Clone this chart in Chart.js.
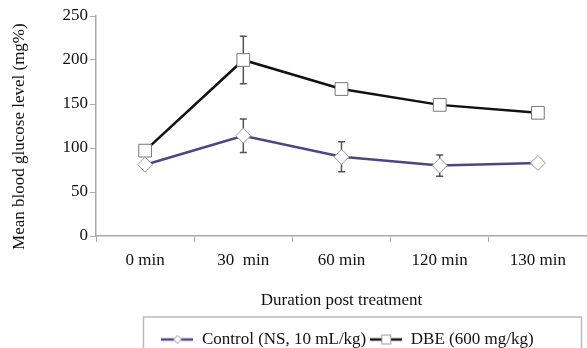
<!DOCTYPE html>
<html>
<head>
<meta charset="utf-8">
<script src="https://cdn.jsdelivr.net/npm/chart.js@4"></script>
<style>
  html, body { margin: 0; padding: 0; background: #fff; }
</style>
</head>
<body>
<canvas id="chart" width="587" height="348"></canvas>
<script>
const categories = ['0 min', '30  min', '60 min', '120 min', '130 min'];
const controlMean = [81, 114, 90, 80, 83];
const controlErr = [3, 19, 17, 12, 2];
const dbeMean = [97, 200, 167, 149, 140];
const dbeErr = [4, 27, 5, 3, 4];
const yTicks = [0, 50, 100, 150, 200, 250];

const FONT = '"Liberation Serif", "DejaVu Serif", serif';
const errs = [controlErr, dbeErr];

// little line+marker pictures for the legend
function legendIcon(color, shape) {
  const c = document.createElement('canvas');
  c.width = 32; c.height = 12;
  const g = c.getContext('2d');
  g.strokeStyle = color; g.lineWidth = 2.5;
  g.beginPath(); g.moveTo(0, 6); g.lineTo(32, 6); g.stroke();
  g.fillStyle = '#fff'; g.strokeStyle = '#999'; g.lineWidth = 1;
  g.beginPath();
  if (shape === 'diamond') {
    g.moveTo(16, 2); g.lineTo(20, 6); g.lineTo(16, 10); g.lineTo(12, 6); g.closePath();
  } else {
    g.rect(11.5, 1.5, 9, 9);
  }
  g.fill(); g.stroke();
  return c;
}
const icons = [legendIcon('#4f4585', 'diamond'), legendIcon('#111', 'square')];

// x axis runs right up to the edge of the picture
const stretchRight = {
  id: 'stretchRight',
  afterLayout(chart) {
    const x = chart.scales.x;
    x.right = chart.width;
    x.width = x.right - x.left;
    x.configure();
    chart.chartArea.right = chart.width;
    chart.chartArea.width = chart.chartArea.right - chart.chartArea.left;
    const lg = chart.legend;
    lg.left = chart.chartArea.left + 6;
    lg.right = chart.chartArea.right + 6;
  }
};

const errorBars = {
  id: 'errorBars',
  beforeDatasetsDraw(chart) {
    const { ctx, scales: { x, y } } = chart;
    ctx.save();
    ctx.strokeStyle = '#555';
    ctx.lineWidth = 1.5;
    chart.data.datasets.forEach((ds, di) => {
      ds.data.forEach((v, i) => {
        const e = errs[di][i];
        const px = x.getPixelForValue(i);
        const top = y.getPixelForValue(v + e);
        const bot = y.getPixelForValue(v - e);
        ctx.beginPath();
        ctx.moveTo(px, top); ctx.lineTo(px, bot);
        ctx.moveTo(px - 3.5, top); ctx.lineTo(px + 3.5, top);
        ctx.moveTo(px - 3.5, bot); ctx.lineTo(px + 3.5, bot);
        ctx.stroke();
      });
    });
    ctx.restore();
  }
};

const legendFrame = {
  id: 'legendFrame',
  afterDraw(chart) {
    const boxes = chart.legend.legendHitBoxes;
    if (!boxes || !boxes.length) return;
    const l = Math.min(...boxes.map(b => b.left));
    const r = Math.max(...boxes.map(b => b.left + b.width));
    const t = Math.min(...boxes.map(b => b.top));
    const ctx = chart.ctx;
    ctx.save();
    ctx.strokeStyle = '#bbb';
    ctx.lineWidth = 1.5;
    ctx.strokeRect(l - 18, t - 14, r - l + 66, 60);
    ctx.restore();
  }
};

new Chart(document.getElementById('chart'), {
  type: 'line',
  data: {
    labels: categories,
    datasets: [
      {
        label: 'Control (NS, 10 mL/kg)',
        data: controlMean,
        borderColor: '#4f4585',
        borderWidth: 2.5,
        pointStyle: 'rectRot',
        pointRadius: 7.5,
        pointBackgroundColor: '#fff',
        pointBorderColor: '#999',
        pointBorderWidth: 1,
        tension: 0
      },
      {
        label: 'DBE (600 mg/kg)',
        data: dbeMean,
        borderColor: '#111',
        borderWidth: 2.5,
        pointStyle: 'rect',
        pointRadius: 9,
        pointBackgroundColor: '#fff',
        pointBorderColor: '#777',
        pointBorderWidth: 1,
        tension: 0
      }
    ]
  },
  options: {
    responsive: false,
    animation: false,
    layout: { padding: { top: 16, right: 0, left: 0, bottom: -10 } },
    plugins: {
      tooltip: { enabled: false },
      legend: {
        position: 'bottom',
        fullSize: false,
        labels: {
          font: { family: FONT, size: 17 },
          color: '#111',
          padding: 4,
          usePointStyle: true,
          pointStyleWidth: 32,
          generateLabels(chart) {
            return chart.data.datasets.map((ds, i) => ({
              text: ds.label,
              pointStyle: icons[i],
              fillStyle: '#fff',
              strokeStyle: ds.borderColor,
              lineWidth: 0,
              fontColor: '#111',
              datasetIndex: i
            }));
          }
        }
      }
    },
    scales: {
      x: {
        offset: true,
        grid: { offset: true, drawOnChartArea: false, drawTicks: true, tickLength: 6, color: '#aaa' },
        border: { color: '#aaa', width: 1.5 },
        ticks: { font: { family: FONT, size: 17 }, color: '#111', padding: 8, maxRotation: 0 },
        title: {
          display: true,
          text: 'Duration post treatment',
          font: { family: FONT, size: 17 },
          color: '#111',
          padding: { top: 4, bottom: 16 }
        },
        afterFit(scale) { scale.height = 91; }
      },
      y: {
        min: yTicks[0],
        max: yTicks[yTicks.length - 1],
        afterBuildTicks(scale) { scale.ticks = yTicks.map(v => ({ value: v })); },
        grid: { drawOnChartArea: false, drawTicks: true, tickLength: 6, color: '#aaa' },
        border: { color: '#aaa', width: 1.5 },
        ticks: { font: { family: FONT, size: 17 }, color: '#111', padding: 2 },
        title: {
          display: true,
          text: 'Mean blood glucose level (mg%)     ',
          font: { family: FONT, size: 17 },
          color: '#111',
          padding: { top: 9, bottom: 4 }
        },
        afterFit(scale) { scale.width = 96; }
      }
    }
  },
  plugins: [stretchRight, errorBars, legendFrame]
});
</script>
</body>
</html>
